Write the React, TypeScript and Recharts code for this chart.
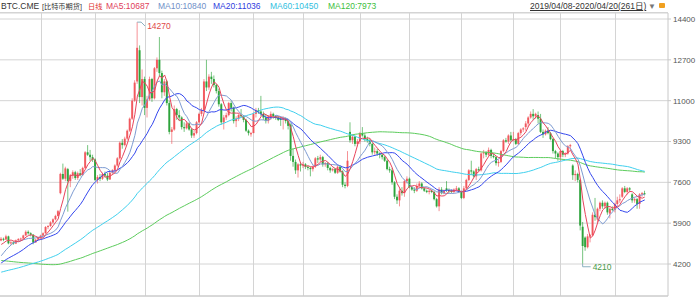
import { ComposedChart, Bar, Line, XAxis, YAxis, CartesianGrid, Customized } from 'recharts';

// closes of the 119 sessions before the window (needed for MA60 / MA120)
const priorCloses = [
  6480, 6460, 6400, 6420, 6430, 6430, 6440, 6410, 6380, 6340, 6300, 6330,
  6350, 6400, 6400, 6450, 6520, 6430, 6380, 6360, 6340, 5700, 5600, 5550, 4800, 4400, 4550, 4300, 3900, 3850, 4250, 4250, 4000,
  3850, 3900, 3800, 3500, 3400, 3500, 3400, 3450, 3250, 3200, 3500, 3650, 3800, 4100, 3900, 4100, 3800, 3600, 3850, 3700,
  3900, 3800, 3850, 4000, 4000, 4000, 3600, 3650, 3650, 3550, 3600, 3650, 3600, 3580, 3550, 3600, 3570, 3450, 3420, 3480, 3450,
  3470, 3450, 3470, 3400, 3380, 3650, 3620, 3630, 3600, 3580, 3600, 3900, 3950, 3930, 3990, 3850, 3820, 3830, 3820,
  3840, 3730, 3890, 3890, 3900, 3880, 3850, 3890, 3870, 3880, 3930, 3980, 4020, 4050, 3970, 4000, 3920, 3950, 4080, 4060, 4120,
  4150, 4900, 4950, 4920, 5050,
];

// daily [open, high, low, close], 2019/04/08 .. 2020/04/20
const candles = [
  [5180, 5320, 5150, 5250], [5250, 5300, 5150, 5220], [5220, 5420, 5200, 5350], [5350, 5380, 5020, 5060],
  [5060, 5150, 5000, 5100], [5100, 5150, 5000, 5050], [5050, 5220, 5030, 5180], [5180, 5280, 5150, 5240],
  [5240, 5300, 5180, 5260], [5260, 5420, 5230, 5390], [5390, 5600, 5370, 5540], [5540, 5600, 5420, 5480],
  [5480, 5520, 5350, 5420], [5420, 5450, 5020, 5100], [5100, 5250, 5080, 5210], [5210, 5330, 5180, 5290],
  // May
  [5290, 5420, 5260, 5380], [5380, 5520, 5350, 5480], [5480, 5780, 5460, 5740], [5740, 5820, 5650, 5780],
  [5780, 5980, 5750, 5930], [5930, 6100, 5880, 6060], [6060, 6250, 6020, 6200], [6200, 6450, 6180, 6400],
  [7150, 8000, 7100, 7950], [7950, 8380, 7700, 7750], [7750, 8250, 7650, 8180], [8150, 8200, 6380, 7650],
  [7650, 7950, 7400, 7900], [7900, 8100, 7750, 8020], [8020, 8080, 7700, 7780], [7780, 8050, 7700, 7980],
  [7980, 8150, 7850, 7900], [7900, 8250, 7880, 8200], [8200, 8900, 8150, 8850], [8850, 9150, 8700, 8750],
  [8750, 8950, 8500, 8650], [8650, 8750, 8450, 8550],
  // June
  [8550, 8600, 7650, 7700], [7700, 7900, 7550, 7820], [7820, 7950, 7650, 7750], [7750, 8000, 7700, 7950],
  [7950, 8050, 7800, 7880], [7880, 8000, 7650, 7720], [7720, 8050, 7700, 8000], [8000, 8150, 7900, 8100],
  [8100, 8350, 8050, 8300], [8300, 8650, 8250, 8600], [8600, 9300, 8550, 9250], [9250, 9400, 9000, 9150],
  [9150, 9500, 9100, 9420], [9420, 9800, 9350, 9750], [9750, 10300, 9700, 10250], [10250, 11100, 10200, 11000],
  [11000, 11850, 10950, 11750], [11800, 14270, 11700, 13200], [13100, 13300, 10900, 11150], [11150, 12300, 10800, 11900],
  // July
  [11900, 12000, 10400, 10700], [10700, 11200, 10300, 11050], [11050, 12000, 11000, 11900], [11900, 11950, 10950, 11100],
  [11100, 12400, 11050, 12350], [12350, 12800, 12200, 12700], [12700, 13650, 12000, 12150], [12150, 12250, 11100, 11350],
  [11350, 11900, 11200, 11800], [11800, 11850, 10800, 10900], [10900, 11000, 9600, 9700], [9700, 9900, 9200, 9800],
  [9800, 10800, 9750, 10650], [10650, 10700, 10200, 10400], [10400, 10600, 10150, 10300], [10300, 10350, 9800, 9900],
  [9900, 10100, 9700, 9850], [9850, 10150, 9800, 10050], [10050, 10100, 9750, 9800], [9800, 9850, 9450, 9550],
  [9550, 9750, 9450, 9650], [9650, 10150, 9600, 10100],
  // August
  [10100, 10500, 10050, 10450], [10450, 10700, 10350, 10600], [10600, 11900, 10550, 11800], [11800, 12700, 11400, 11550],
  [11550, 12100, 11450, 12000], [12000, 12200, 11700, 11900], [11900, 12050, 11550, 11650], [11650, 11700, 11300, 11400],
  [11400, 11500, 10750, 10850], [10850, 10900, 10000, 10100], [10100, 10400, 9800, 10300], [10300, 10500, 10200, 10400],
  [10400, 10950, 10350, 10900], [10900, 11000, 10550, 10700], [10700, 10750, 10050, 10150], [10150, 10350, 9900, 10250],
  [10250, 10450, 10150, 10400], [10400, 10650, 10300, 10350], [10350, 10400, 10100, 10200], [10200, 10250, 9700, 9750],
  [9750, 9800, 9550, 9650], [9600, 9700, 9500, 9650],
  // September
  [9650, 10500, 9650, 10450], [10450, 10700, 10300, 10600], [10600, 10700, 10450, 10550], [10550, 11200, 10350, 10450],
  [10450, 10550, 10200, 10300], [10300, 10450, 10050, 10150], [10150, 10400, 10050, 10350], [10350, 10550, 10200, 10450],
  [10450, 10500, 10250, 10350], [10350, 10400, 10200, 10300], [10300, 10350, 10150, 10200], [10250, 10300, 9950, 10200],
  [10200, 10350, 9800, 10250], [10250, 10300, 10050, 10150], [10150, 10200, 9800, 9950], [10000, 10050, 8500, 8700],
  [8700, 9000, 8250, 8450], [8450, 8550, 7950, 8100], [8100, 8400, 7800, 8350], [8350, 8450, 8050, 8300],
  // October
  [8300, 8450, 8200, 8350], [8350, 8400, 8150, 8250], [8250, 8300, 8100, 8200], [8200, 8250, 7850, 8150],
  [8150, 8300, 8050, 8250], [8250, 8650, 8200, 8600], [8600, 8700, 8400, 8550], [8550, 8750, 8450, 8650],
  [8650, 8700, 8250, 8350], [8350, 8450, 8250, 8400], [8400, 8450, 8100, 8200], [8200, 8250, 8000, 8100],
  [8100, 8200, 8050, 8150], [8150, 8200, 7950, 8000], [8000, 8300, 7950, 8250], [8250, 8300, 8000, 8050],
  [8050, 8100, 7400, 7500], [7500, 7600, 7350, 7450], [7450, 8900, 7400, 8500], [9700, 10100, 9250, 9350],
  [9350, 9600, 9200, 9500], [9500, 9550, 9100, 9200], [9200, 9400, 9100, 9300],
  // November
  [9300, 9700, 9200, 9650], [9650, 9900, 9500, 9550], [9550, 9650, 9300, 9400], [9400, 9500, 9250, 9350],
  [9350, 9400, 9100, 9200], [9200, 9250, 8750, 8850], [8850, 9050, 8750, 8900], [8900, 9000, 8700, 8800],
  [8800, 8850, 8600, 8750], [8750, 8800, 8550, 8650], [8650, 8700, 8450, 8500], [8500, 8550, 8100, 8150],
  [8150, 8250, 8000, 8100], [8100, 8200, 7500, 7600], [7600, 7650, 6900, 7000], [7000, 7100, 6700, 6850],
  [6850, 7350, 6600, 7250], [7250, 7400, 7050, 7150], [7150, 7700, 7000, 7650], [7650, 7850, 7550, 7750],
  // December
  [7750, 7800, 7350, 7400], [7400, 7450, 7250, 7300], [7300, 7400, 7150, 7250], [7250, 7550, 7200, 7450],
  [7450, 7650, 7400, 7550], [7550, 7600, 7300, 7350], [7350, 7400, 7200, 7250], [7250, 7300, 7150, 7200],
  [7200, 7300, 7100, 7250], [7250, 7300, 7150, 7200], [7200, 7250, 6850, 6900], [6900, 6950, 6550, 6600],
  [6600, 7400, 6400, 7300], [7300, 7400, 7100, 7150], [7150, 7300, 7100, 7250], [7350, 7650, 7200, 7280],
  [7280, 7350, 7150, 7250], [7250, 7300, 7150, 7200], [7200, 7350, 7150, 7300], [7300, 7450, 7250, 7350],
  [7350, 7400, 7150, 7200],
  // January
  [7200, 7250, 6900, 6950], [6950, 7450, 6900, 7350], [7350, 7750, 7300, 7700], [7700, 8150, 7650, 8100],
  [8100, 8500, 7900, 8050], [8050, 8100, 7800, 7850], [7850, 8200, 7700, 8150], [8150, 8250, 8050, 8100],
  [8100, 8850, 8050, 8800], [8800, 8950, 8600, 8850], [8850, 8900, 8650, 8750], [8750, 9050, 8700, 8950],
  [8950, 9000, 8600, 8700], [8700, 8800, 8600, 8650], [8650, 8700, 8300, 8400], [8400, 8550, 8250, 8450],
  [8450, 8950, 8400, 8900], [8900, 9400, 8850, 9350], [9350, 9450, 9250, 9300], [9300, 9600, 9200, 9550],
  [9550, 9700, 9300, 9350],
  // February
  [9350, 9700, 9300, 9400], [9400, 9450, 9150, 9200], [9200, 9700, 9150, 9650], [9650, 9850, 9550, 9800],
  [9800, 9900, 9700, 9850], [9900, 10150, 9750, 10050], [10050, 10350, 9900, 10300], [10300, 10550, 10250, 10450],
  [10450, 10650, 10200, 10350], [10350, 10500, 10250, 10450], [10400, 10550, 10050, 10250], [10250, 10450, 9650, 9700],
  [9700, 9800, 9450, 9600], [9600, 9800, 9550, 9750], [9750, 9900, 9600, 9650], [9650, 9700, 9350, 9400],
  [9400, 9450, 8800, 8900], [8900, 8950, 8600, 8800], [8800, 8850, 8500, 8650],
  // March
  [8650, 8950, 8500, 8900], [8900, 8950, 8650, 8750], [8750, 8850, 8650, 8800], [8800, 9150, 8750, 9100],
  [9100, 9200, 8950, 9150], [8300, 8350, 7700, 7900], [7900, 8100, 7650, 7950], [7950, 8000, 7600, 7700],
  [7700, 7750, 5600, 5800], [5750, 5950, 4210, 4950], [5300, 5350, 4750, 4900], [4900, 5450, 4850, 5350],
  [5350, 5450, 5100, 5400], [5400, 6350, 5350, 6250], [6250, 6950, 6000, 6150], [6050, 6550, 5900, 6500],
  [6500, 6800, 6400, 6750], [6750, 6850, 6500, 6600], [6600, 6800, 6500, 6750], [6750, 6800, 6250, 6350],
  [6300, 6550, 6100, 6500], [6500, 6600, 6400, 6450],
  // April
  [6450, 6750, 6350, 6700], [6700, 7000, 6600, 6850], [6850, 7100, 6750, 6900], [7000, 7400, 6950, 7350],
  [7350, 7450, 7150, 7200], [7200, 7400, 7100, 7350], [7350, 7400, 7200, 7300], [7100, 7150, 6750, 6850],
  [6850, 6950, 6750, 6900], [6900, 6950, 6500, 6700], [6700, 7150, 6500, 7100], [7100, 7200, 7000, 7150],
  [7150, 7250, 7050, 7100],
];

const monthStarts = [16, 38, 58, 80, 102, 122, 145, 165, 186, 207, 226, 248];
const priceTicks = [4200, 5900, 7600, 9300, 11000, 12700, 14400];
const priceDomain = [2868, 14650];
const maPeriods = [5, 10, 20, 60, 120];
const maColors = ['#e8445c', '#7d9bd2', '#3447ee', '#3fd0ee', '#5ccc5c'];

const headerItems = [
  { text: 'BTC.CME', x: 1, color: '#333', size: 8.5 },
  { text: '[比特币期货]', x: 42, color: '#333', size: 7.2 },
  { text: '日线', x: 88, color: '#e03030', size: 7.2 },
  { text: 'MA5:10687', x: 106, color: '#e0405a', size: 8.5 },
  { text: 'MA10:10840', x: 158, color: '#7090c8', size: 8.5 },
  { text: 'MA20:11036', x: 213, color: '#3040e0', size: 8.5 },
  { text: 'MA60:10450', x: 270, color: '#30c0e0', size: 8.5 },
  { text: 'MA120:7973', x: 328, color: '#40c040', size: 8.5 },
];

const UP = '#f04a50';
const DOWN = '#1c9c2c';
const GRID = '#d4d4d4';
const FONT = '"Liberation Sans", Arial, "Noto Sans CJK SC", sans-serif';

const allCloses = [...priorCloses, ...candles.map((c) => c[3])];
const maAt = (n: number, k: number) => {
  let s = 0;
  for (let j = k - n + 1; j <= k; j++) s += allCloses[j];
  return Math.round(s / n);
};

const data = candles.map((c, i) => {
  const row: any = { i, open: c[0], high: c[1], low: c[2], close: c[3] };
  const k = priorCloses.length + i;
  maPeriods.forEach((n) => {
    row[`ma${n}`] = maAt(n, k);
  });
  return row;
});

let maxIdx = 0;
let minIdx = 0;
data.forEach((d, i) => {
  if (d.high > data[maxIdx].high) maxIdx = i;
  if (d.low < data[minIdx].low) minIdx = i;
});

// month separators, placed through the chart's own x scale
const MonthLines = (props: any) => {
  const xAxis = props.xAxisMap ? Object.values(props.xAxisMap)[0] as any : null;
  const offset = props.offset;
  if (!xAxis || !xAxis.scale || !offset) return null;
  const bw = xAxis.scale.bandwidth ? xAxis.scale.bandwidth() : 0;
  return (
    <g>
      {monthStarts.map((m) => {
        const gx = Math.round(xAxis.scale(m) + bw / 2) + 0.5;
        return <line key={m} x1={gx} x2={gx} y1={offset.top} y2={offset.top + offset.height} stroke={GRID} strokeWidth={1} />;
      })}
    </g>
  );
};

const Candle = (props: any) => {
  const { x, y, width, height, payload, index } = props;
  const top = Math.min(y, y + height);
  const h = Math.abs(height);
  const { open, high, low, close } = payload;
  const k = high === low ? 0 : h / (high - low);
  const py = (v: number) => top + (high - v) * k;
  const cx = x + width / 2;
  const up = close >= open;
  const color = up ? UP : DOWN;
  const bTop = py(Math.max(open, close));
  const bBot = py(Math.min(open, close));
  const gx = Math.round(cx) + 0.5;
  return (
    <g>
      {monthStarts.includes(index) && k > 0 && (
        <line x1={gx} x2={gx} y1={py(priceDomain[1])} y2={py(priceDomain[0])} stroke={GRID} strokeWidth={1} />
      )}
      <line x1={cx} x2={cx} y1={top} y2={top + h} stroke={color} strokeOpacity={0.6} strokeWidth={1} />
      <rect x={cx - 1} y={bTop} width={2} height={Math.max(1, bBot - bTop)} fill={color} fillOpacity={0.85} />
      {index === maxIdx && (
        <g>
          <polyline points={`${cx},${top} ${cx + 4},${top} ${cx + 8},${top + 4}`} fill="none" stroke="#8ab0c0" />
          <text x={cx + 10} y={top + 7} fontSize={8.5} fontFamily={FONT} fill="#e04848">
            {high}
          </text>
        </g>
      )}
      {index === minIdx && (
        <g>
          <polyline points={`${cx},${top + h} ${cx},${top + h + 3} ${cx + 8},${top + h + 3}`} fill="none" stroke="#8ab0c0" />
          <text x={cx + 10} y={top + h + 6} fontSize={8.5} fontFamily={FONT} fill="#4a9a4a">
            {low}
          </text>
        </g>
      )}
    </g>
  );
};

const App = () => {
  return (
    <div style={{ position: 'fixed', left: 0, top: 0, width: 700, height: 299, background: '#fff', overflow: 'hidden', fontFamily: FONT }}>
      <div style={{ position: 'absolute', left: 0, top: 0, width: 668, height: 12, borderBottom: `1px solid ${GRID}` }}>
        {headerItems.map((item, idx) => (
          <span key={idx} style={{ position: 'absolute', left: item.x, top: 1, fontSize: item.size, lineHeight: '11px', color: item.color, whiteSpace: 'nowrap' }}>
            {item.text}
          </span>
        ))}
        <span style={{ position: 'absolute', left: 530, top: 1, fontSize: 8.5, lineHeight: '11px', color: '#333', textDecoration: 'underline', whiteSpace: 'nowrap' }}>
          2019/04/08-2020/04/20(261日)
        </span>
        <span style={{ position: 'absolute', left: 648, top: 1, fontSize: 8, lineHeight: '11px', color: '#777' }}>▼</span>
        <span style={{ position: 'absolute', left: 659, top: 3, width: 6, height: 5, background: '#f0a020', borderRadius: 1 }} />
      </div>
      <ComposedChart
        width={700}
        height={299}
        data={data}
        margin={{ top: 13, right: 0, left: 0, bottom: 0 }}
        barCategoryGap={0}
        barGap={0}
      >
        <CartesianGrid stroke={GRID} vertical={false} />
        <XAxis
          dataKey="i"
          type="category"
          tick={false}
          tickLine={false}
          height={3}
          padding={{ left: 0, right: 22 }}
          axisLine={{ stroke: '#c8c8c8' }}
        />
        <YAxis
          orientation="right"
          width={32}
          domain={priceDomain}
          allowDataOverflow
          ticks={priceTicks}
          interval={0}
          tickSize={3}
          tickLine={{ stroke: '#c8c8c8' }}
          axisLine={{ stroke: '#c8c8c8' }}
          tick={{ fontSize: 8, fill: '#555', fontFamily: FONT }}
        />
        <Customized component={MonthLines} />
        <Bar dataKey={(d: any) => [d.low, d.high]} shape={<Candle />} isAnimationActive={false} />
        {[...maPeriods].reverse().map((n) => (
          <Line
            key={n}
            type="linear"
            dataKey={`ma${n}`}
            stroke={maColors[maPeriods.indexOf(n)]}
            strokeWidth={1}
            dot={false}
            activeDot={false}
            isAnimationActive={false}
          />
        ))}
      </ComposedChart>
    </div>
  );
};

export default App;
